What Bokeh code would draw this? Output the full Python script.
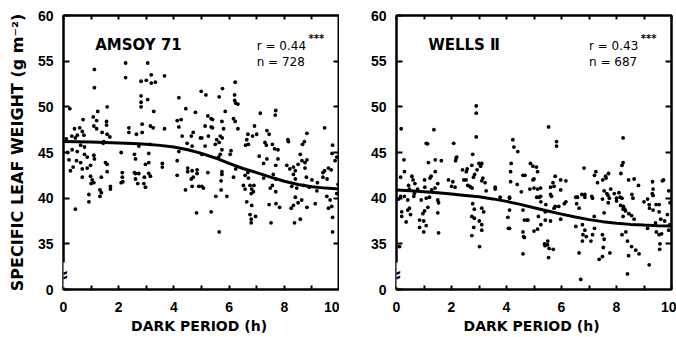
from bokeh.plotting import figure
from bokeh.models import LinearAxis, FixedTicker, Label, Range1d
from bokeh.layouts import row
from bokeh.embed import file_html
from bokeh.resources import INLINE

# ---------------- data ----------------
x_ticks = [0, 2, 4, 6, 8, 10]
x_minor = [1, 3, 5, 7, 9]
x_all = [0, 1, 2, 3, 4, 5, 6, 7, 8, 9, 10]
y_ticks = [30, 35, 40, 45, 50, 55, 60]
y_side = [35, 40, 45, 50, 55]
y_tick_labels = {30: "0"}

titles = ["AMSOY 71", "WELLS \u2161"]
r_texts = ["r = 0.44", "r = 0.43"]
n_texts = ["n = 728", "n = 687"]

amsoy_pts = [
    (2.25,54.8),(3.05,54.8),(1.12,54.1),(2.25,53.2),(2.81,52.8),(3.0,52.9),(3.18,53.5),(3.18,52.6),(3.33,52.7),(3.66,53.4),
    (1.12,52.1),(2.81,51.2),(2.81,50.5),(3.05,50.8),(2.81,50.0),(4.18,51.0),(1.58,50.0),(1.24,49.5),(0.23,49.8),(3.27,49.5),
    (4.43,49.8),(4.78,49.4),(0.71,48.6),(1.08,48.9),(1.2,48.5),(1.56,48.4),(1.56,48.0),(4.12,48.5),(4.26,48.6),(2.85,48.1),
    (3.15,47.9),(3.25,47.7),(4.18,47.8),(1.1,47.9),(1.2,47.6),(0.4,47.6),(0.59,47.7),(0.68,47.3),(2.37,47.7),(2.37,47.2),
    (1.4,47.2),(1.58,47.0),(1.68,46.7),(2.64,47.0),(2.85,47.2),(3.66,47.6),(4.7,47.2),(4.3,46.8),(4.63,46.8),(0.5,46.9),
    (0.43,46.6),(0.74,46.9),(4.96,46.6),(1.46,46.2),(1.44,46.0),(0.62,45.8),(0.76,45.6),(2.73,45.7),(3.13,45.9),(4.48,46.0),
    (4.66,45.7),(0.31,45.3),(0.5,45.1),(0.76,44.8),(0.86,44.5),(1.1,44.7),(1.12,44.3),(2.09,45.0),(2.57,44.8),(3.09,44.9),
    (2.61,44.3),(4.18,45.1),(4.12,44.1),(3.58,43.8),(3.58,43.4),(3.09,43.9),(2.97,43.7),(1.52,43.9),(1.58,43.7),(0.47,44.1),
    (0.62,43.9),(0.98,43.6),(0.35,43.4),(0.68,43.2),(0.86,43.3),(4.5,43.3),(4.66,43.0),(4.84,43.1),(2.13,42.8),(2.61,42.7),
    (3.09,42.7),
    (6.22,52.7),(5.76,52.0),(5.16,51.3),(4.99,51.7),(5.64,51.1),(6.2,51.3),(6.2,50.7),(6.24,50.4),(6.32,50.3),(5.86,49.5),
    (7.69,49.6),(7.67,49.1),(7.13,49.3),(5.23,49.0),(5.35,48.7),(5.4,48.6),(5.74,48.4),(6.16,48.7),(6.22,48.4),(5.13,47.9),
    (5.35,47.8),(5.4,47.7),(5.8,47.6),(6.32,47.6),(6.92,47.9),(7.37,47.4),(7.45,47.0),(9.46,47.7),(8.82,47.1),(6.68,47.0),
    (6.85,46.8),(5.25,46.8),(5.68,46.8),(5.75,46.6),(5.01,46.6),(5.55,46.4),(5.64,46.1),(5.5,45.9),(6.64,46.4),(6.7,45.9),
    (6.6,45.8),(5.13,45.7),(7.3,46.1),(7.35,45.8),(7.57,45.9),(7.65,45.4),(7.77,45.3),(8.15,46.2),(8.73,46.2),(8.66,45.9),
    (9.75,45.8),(6.07,45.2),(6.04,44.8),(5.74,45.3),(5.68,44.8),(5.62,44.5),(5.01,44.8),(7.09,44.6),(7.37,44.3),(7.77,44.3),
    (8.58,44.8),(8.64,44.1),(8.75,43.9),(8.5,43.7),(8.33,43.4),(8.2,43.2),(8.4,43.0),(8.82,44.2),(8.75,43.3),(9.46,43.0),
    (9.6,43.3),(9.84,44.1),(9.7,43.1),(8.09,43.6),(7.25,43.8),(7.69,43.6),(5.23,42.8),(5.74,42.9),(6.68,42.8),(6.24,43.2),
    (7.0,47.0),(8.13,46.4),(9.73,44.9),(9.9,44.5),
    (0.68,42.3),(0.98,42.4),(1.04,42.0),(1.1,41.7),(1.0,41.6),(1.37,42.3),(1.58,42.9),(2.13,42.3),(2.09,41.7),(2.15,41.8),
    (2.57,42.8),(2.73,42.7),(2.61,42.1),(2.69,41.6),(2.91,41.6),(2.97,41.2),(2.93,42.3),(3.15,42.4),(1.32,40.9),(1.37,40.6),
    (1.7,41.3),(1.7,41.0),(0.92,40.4),(0.92,39.6),(1.32,40.2),(0.43,38.8),(4.12,42.5),(4.5,42.9),(4.63,42.1),(4.7,42.3),
    (4.84,42.7),(4.42,40.9),(4.66,41.3),(4.9,41.3),(4.82,38.4),
    (5.74,42.6),(5.71,41.9),(6.16,42.3),(5.01,41.3),(5.07,41.1),(5.71,40.9),(5.52,40.2),(5.92,40.2),(5.35,38.5),(5.64,36.3),
    (6.58,42.5),(6.7,42.2),(6.52,41.4),(6.58,41.0),(6.76,41.4),(6.82,41.0),(6.88,40.7),(6.8,40.5),(6.9,41.4),(7.25,42.2),
    (7.49,41.1),(7.57,41.4),(7.69,40.7),(7.6,42.6),(7.69,42.1),(6.64,39.6),(6.82,39.2),(6.76,38.2),(6.8,37.7),(6.8,37.3),
    (6.96,38.0),(7.45,39.3),(7.7,39.4),(7.83,39.0),(7.52,37.3),(8.33,42.6),(8.4,42.1),(8.8,42.3),(8.27,41.3),(8.45,41.1),
    (8.4,40.1),(8.5,39.5),(8.33,39.2),(8.25,38.9),(8.63,39.8),(8.82,39.0),(8.58,37.7),(8.37,37.3),(8.7,41.4),(9.12,39.4),
    (9.18,40.8),(9.4,42.3),(9.54,40.2),(9.66,39.8),(9.6,38.9),(9.72,39.1),(9.75,37.9),(9.75,36.3),(9.4,42.8),(9.55,42.1),
    (0.15,45.0),(0.2,44.2),(0.1,46.5),(0.3,46.8),(0.25,43.0),(9.95,41.5),(9.9,40.5),(9.2,41.7),(9.0,42.0),(8.9,41.2),
]

wells_pts = [
    (2.9,50.1),(2.9,49.3),(0.17,47.6),(1.36,47.5),(2.9,46.7),(1.08,46.0),(1.13,45.95),(2.08,46.0),(4.23,46.4),(4.27,45.6),
    (4.41,45.1),(2.77,44.8),(0.27,44.2),(1.16,43.9),(1.41,44.2),(1.63,44.1),(2.17,44.4),(2.15,44.1),(2.74,43.6),(3.1,43.8),
    (3.06,43.5),(2.57,43.2),(2.54,42.9),(4.17,43.8),(4.87,43.8),(0.29,42.9),(0.15,42.3),(1.41,42.9),(1.26,42.4),(1.22,42.2),
    (0.56,42.4),(0.6,42.0),(1.02,42.0),(1.5,41.6),(2.05,41.8),(2.13,41.2),(2.84,42.6),(3.14,42.2),(3.22,41.7),(3.1,41.9),
    (2.53,42.0),(2.59,41.4),(2.7,41.2),(2.75,41.1),(3.26,40.8),(3.59,41.2),(3.59,41.0),(4.15,42.9),(4.15,41.8),(4.39,41.5),
    (4.54,40.7),(4.6,42.5),(4.67,42.5),(4.96,42.0),(4.85,41.0),(5.0,41.1),(4.11,40.1),(0.44,41.4),(0.47,41.0),(0.67,41.6),
    (1.03,41.2),(1.28,40.9),(1.4,41.1),(0.15,40.2),(0.29,40.2),(0.65,40.5),(0.77,41.0),(2.19,44.5),(4.96,43.5),
    (5.53,47.8),(5.82,46.2),(5.82,45.7),(8.24,46.6),(8.24,43.9),(8.2,43.6),(8.16,42.7),(6.82,43.3),(7.25,42.9),(7.2,42.5),
    (7.71,42.7),(7.62,42.2),(7.31,41.7),(5.09,43.4),(5.13,42.9),(5.0,42.1),(5.77,42.4),(5.69,41.7),(5.97,42.0),(6.16,41.9),
    (5.6,41.2),(5.73,41.3),(5.97,40.9),(5.13,41.0),(5.24,41.1),(5.1,40.1),(5.24,40.2),(5.6,40.4),(5.64,40.2),(7.55,40.8),
    (7.79,41.0),(8.09,40.6),(8.64,42.1),(8.8,41.4),(8.56,40.4),(9.31,41.8),(9.67,41.9),(9.33,41.0),(9.33,40.3),(6.52,40.1),
    (6.85,40.4),(6.85,40.1),(7.13,40.0),(7.69,40.3),(7.74,40.0),(8.2,40.0),
    (8.44,42.0),(9.71,42.0),(9.3,40.5),(8.6,40.0),(9.0,39.6),(9.55,39.3),(9.2,38.9),(7.5,42.0),(7.6,42.4),(7.65,40.5),
    (7.92,40.5),(8.25,39.1),(8.3,38.8),(8.45,38.3),(8.0,39.7),(6.74,40.4),(6.55,39.4),
    (1.89,42.0),(2.0,41.3),(2.4,43.1),(2.45,42.0),(2.67,41.3),(2.8,42.3),(2.93,43.1),(3.0,43.8),
    (4.07,36.7),(4.62,35.8),(5.4,34.8),(5.5,35.3),(5.7,34.4),(4.75,37.6),(5.16,38.0),(5.41,38.5),(5.77,39.1),(5.9,39.1),(5.6,37.5),
    (0.07,39.9),(0.41,39.8),(0.63,40.2),(0.9,39.8),(1.08,40.0),(1.2,40.1),(1.5,39.8),(1.53,39.5),(0.41,38.7),(0.47,38.9),
    (0.19,38.5),(0.19,38.0),(0.51,38.2),(0.35,37.4),(1.02,38.6),(0.96,38.3),(1.14,39.0),(0.84,37.6),(0.99,37.5),(1.08,37.0),
    (0.84,36.8),(0.99,36.3),(1.5,38.4),(1.53,36.2),(0.11,34.7),(2.77,39.4),(2.83,38.8),(3.1,38.9),(3.17,38.5),(2.74,38.0),
    (2.83,37.8),(3.01,37.5),(3.1,37.1),(2.81,36.8),(3.1,36.5),(2.74,35.9),(3.02,34.7),(4.11,38.7),(4.05,37.9),(4.11,36.7),
    (4.6,38.7),(4.65,37.6),(4.6,36.3),(4.65,35.7),(4.78,37.6),(4.6,33.9),(3.77,40.1),(4.11,40.0),
    (5.19,40.1),(5.25,39.6),(5.43,39.3),(5.41,37.6),(5.25,37.1),(5.13,36.6),(5.0,36.4),(5.49,34.9),(5.55,34.5),(5.38,35.0),
    (5.53,33.5),(5.73,38.9),(6.1,39.4),(5.97,37.7),(6.16,39.6),(6.58,40.1),(6.64,38.9),(6.52,36.9),(6.76,37.1),(6.85,36.5),
    (6.78,36.0),(6.9,35.8),(7.13,36.0),(7.2,36.7),(7.07,35.3),(6.76,35.3),(6.64,34.0),(7.49,36.0),(7.55,35.5),(7.52,34.6),
    (7.76,34.0),(7.49,33.6),(7.37,33.3),(6.7,31.1),(7.19,38.0),(7.55,38.4),(7.49,39.9),(7.7,39.5),(8.24,38.0),(8.15,39.2),
    (8.33,38.6),(8.55,38.1),(8.64,37.7),(8.34,36.3),(8.2,36.0),(8.4,35.3),(8.55,34.7),(8.7,34.3),(8.82,33.9),(8.44,33.7),
    (8.4,31.7),(9.19,32.7),(9.13,36.7),(9.19,39.3),(9.33,38.7),(9.44,39.3),(9.55,38.5),(9.61,37.7),(9.45,36.3),(9.55,36.0),
    (9.64,36.1),(9.58,35.0),(9.57,34.4),(9.75,37.5),(9.42,37.3),(9.94,37.1),(8.0,40.0),(8.13,40.1),(8.24,38.8),(7.1,40.2),
    (9.13,39.9),(9.9,36.5),(9.85,38.2),(9.95,39.5),(9.9,40.8),
]

amsoy_x = [p[0] for p in amsoy_pts]
amsoy_y = [p[1] for p in amsoy_pts]
wells_x = [p[0] for p in wells_pts]
wells_y = [p[1] for p in wells_pts]

fit_x = [0, 0.5, 1, 1.5, 2, 2.5, 3, 3.5, 4, 4.5, 5, 5.5, 6, 6.5, 7, 7.5, 8, 8.5, 9, 9.5, 10]
amsoy_fit = [46.2, 46.18, 46.15, 46.1, 46.05, 45.98, 45.9, 45.78, 45.6, 45.3, 44.9, 44.4, 43.8,
             43.25, 42.8, 42.3, 41.85, 41.5, 41.25, 41.1, 41.0]
wells_fit = [40.9, 40.82, 40.7, 40.58, 40.45, 40.3, 40.15, 39.92, 39.65, 39.32, 38.95, 38.6, 38.25,
             37.93, 37.65, 37.43, 37.25, 37.13, 37.05, 36.99, 36.95]

TICK_FONT = "Liberation Sans"
LABEL_FONT = "DejaVu Sans"


def make_panel(xs, ys, fy, title, r_text, n_text, width, bl, br, ylabel):
    p = figure(width=width, height=337, x_range=Range1d(0, 10), y_range=Range1d(30, 60),
               output_backend="svg", toolbar_location=None,
               min_border_left=bl, min_border_right=br, min_border_top=15, min_border_bottom=48)
    p.background_fill_color = "white"
    p.border_fill_color = "white"
    p.outline_line_color = "black"
    p.outline_line_width = 2
    p.grid.visible = False

    xa = p.xaxis[0]
    xa.ticker = FixedTicker(ticks=x_ticks, minor_ticks=x_minor)
    xa.axis_label = "DARK PERIOD  (h)"
    ya = p.yaxis[0]
    ya.ticker = FixedTicker(ticks=y_ticks)
    ya.major_label_overrides = y_tick_labels
    if ylabel:
        ya.axis_label = ylabel

    # label-free axes: only minor ticks, so no tick labels are drawn
    top = LinearAxis(ticker=FixedTicker(ticks=[], minor_ticks=x_all))
    right = LinearAxis(ticker=FixedTicker(ticks=[], minor_ticks=y_side))
    p.add_layout(top, "above")
    p.add_layout(right, "right")

    for ax in (xa, top):
        ax.major_tick_in = 4
        ax.major_tick_out = 0
        ax.minor_tick_in = 4
        ax.minor_tick_out = 0
    ya.major_tick_in = 6
    ya.major_tick_out = 0
    ya.minor_tick_in = 0
    ya.minor_tick_out = 0
    right.minor_tick_in = 6
    right.minor_tick_out = 0
    for ax in (xa, ya, top, right):
        ax.axis_line_color = "black"
        ax.axis_line_width = 2
        ax.major_tick_line_width = 2
        ax.minor_tick_line_width = 2
        ax.major_tick_line_color = "black"
        ax.minor_tick_line_color = "black"
    for ax in (xa, ya):
        ax.major_label_text_font = TICK_FONT
        ax.major_label_text_font_style = "bold"
        ax.major_label_text_font_size = "14px"
        ax.major_label_text_color = "black"
        ax.axis_label_text_font = LABEL_FONT
        ax.axis_label_text_font_style = "bold"
        ax.axis_label_text_color = "black"
    xa.axis_label_text_font_size = "14px"
    ya.axis_label_text_font_size = "16px"
    xa.major_label_standoff = 12
    xa.axis_label_standoff = 3
    ya.major_label_standoff = 10
    ya.axis_label_standoff = 8

    p.scatter(xs, ys, size=3.8, color="black", line_width=0)
    p.line(fit_x, fy, line_width=3, color="black")

    p.add_layout(Label(x=-0.12, y=31.6, text="\u2248", text_align="center", text_baseline="middle",
                       text_font=LABEL_FONT, text_font_style="bold", text_font_size="22px",
                       text_color="black", background_fill_color="white",
                       padding=0))
    p.add_layout(Label(x=1.15, y=56.8, text=title, text_baseline="middle",
                       text_font=LABEL_FONT, text_font_style="bold", text_font_size="15px", text_color="black"))
    p.add_layout(Label(x=7.0, y=56.7, text=r_text, text_baseline="middle",
                       text_font=LABEL_FONT, text_font_size="12px", text_color="black"))
    p.add_layout(Label(x=8.88, y=57.45, text="***", text_baseline="middle",
                       text_font=LABEL_FONT, text_font_style="bold", text_font_size="10px", text_color="black"))
    p.add_layout(Label(x=7.0, y=54.9, text=n_text, text_baseline="middle",
                       text_font=LABEL_FONT, text_font_size="12px", text_color="black"))
    return p


p1 = make_panel(amsoy_x, amsoy_y, amsoy_fit, titles[0], r_texts[0], n_texts[0],
                339, 63, 0, "SPECIFIC LEAF WEIGHT (g m\u207b\u00b2)")
p2 = make_panel(wells_x, wells_y, wells_fit, titles[1], r_texts[1], n_texts[1],
                337, 57, 5, "")

layout = row(p1, p2)
open("out.html", "w").write(file_html(layout, INLINE))
